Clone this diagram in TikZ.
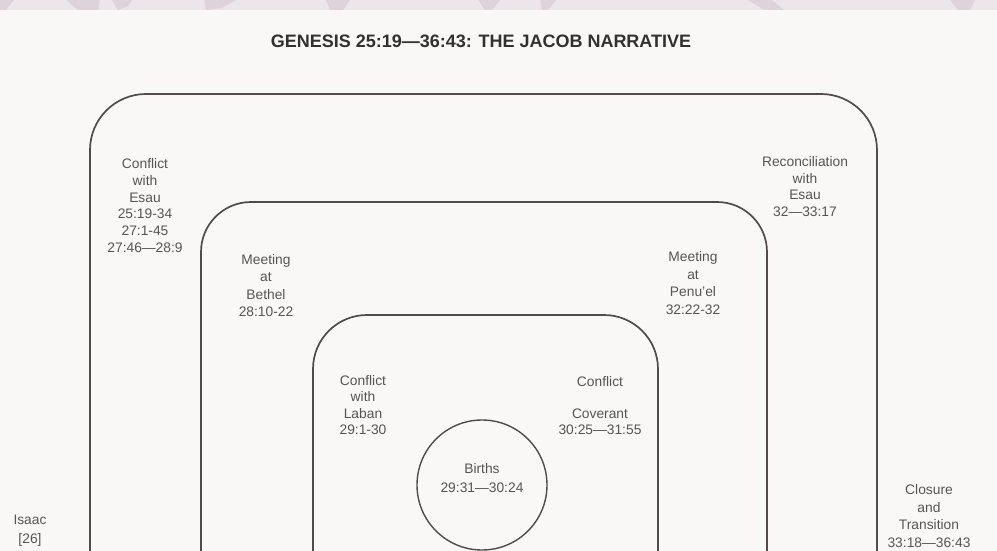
\documentclass[tikz,border=0pt]{standalone}
\usepackage{fontspec}
\setmainfont{Liberation Sans}
\definecolor{paper}{HTML}{F9F8F6}
\definecolor{band}{HTML}{EBE6EA}
\definecolor{blob}{HTML}{DED3DB}
\definecolor{ink}{HTML}{534B4B}
\definecolor{txt}{HTML}{595454}
\definecolor{ttl}{HTML}{333030}
\tikzset{
  frame/.style={draw=ink, line width=1.7pt},
  lbl/.style={text=txt, align=center, inner sep=0pt, font=\fontsize{13.8}{16.8}\selectfont},
  title/.style={text=ttl, inner sep=0pt, font=\fontsize{18}{20}\selectfont\bfseries}
}
\begin{document}
\begin{tikzpicture}[x=1pt,y=-1pt]
\useasboundingbox (0,0) rectangle (997,551);
\fill[paper] (0,0) rectangle (997,551);
% top band
\fill[band] (0,0) rectangle (997,10);
\fill[blob] (0,0) -- (14,0) -- (6,10) -- (0,10) -- cycle;
\fill[blob] (66,0) -- (100,0) -- (98,10) -- (78,10) -- cycle;
\fill[blob] (112,0) -- (132,0) -- (128,6) -- (118,10) -- cycle;
\fill[blob] (204,0) -- (236,0) -- (222,8) -- (206,10) -- cycle;
\fill[blob] (326,0) -- (350,0) -- (343,10) -- (330,10) -- cycle;
\fill[blob] (478,0) -- (500,0) -- (492,10) -- (485,10) -- cycle;
\fill[blob] (540,0) -- (556,0) -- (548,10) -- (542,10) -- cycle;
\fill[blob] (748,0) -- (772,0) -- (784,10) -- (764,10) -- cycle;
\fill[blob] (950,0) -- (975,0) -- (970,10) -- (958,10) -- cycle;

\node[title] (ttl) at (481,41) {GENESIS 25:19—36:43: THE JACOB NARRATIVE};

% frames
\draw[frame, rounded corners=56pt] (90,560) -- (90,94) -- (877,94) -- (877,560);
\draw[frame, rounded corners=50pt] (201,560) -- (201,202) -- (767,202) -- (767,560);
\draw[frame, rounded corners=54pt] (313,560) -- (313,315) -- (658,315) -- (658,560);
\node[circle, frame, line width=1.4pt, minimum size=130pt, inner sep=0pt] (circ) at (482,485) {};

% labels
\node[lbl] (esau) at (145,205.5) {Conflict\\with\\Esau\\25:19-34\\27:1-45\\27:46—28:9};
\node[lbl] (recon) at (805,186.5) {Reconciliation\\with\\Esau\\32—33:17};
\node[lbl, font=\fontsize{13.8}{17.6}\selectfont] (bethel) at (266,285.5) {Meeting\\at\\Bethel\\28:10-22};
\node[lbl, font=\fontsize{13.8}{17.6}\selectfont] (penuel) at (693,283) {Meeting\\at\\Penu'el\\32:22-32};
\node[lbl, font=\fontsize{13.8}{16.2}\selectfont] (laban) at (363,405) {Conflict\\with\\Laban\\29:1-30};
\node[lbl, font=\fontsize{13.8}{16.2}\selectfont] (coven) at (600,405.5) {Conflict\\\strut\\Coverant\\30:25—31:55};
\node[lbl, font=\fontsize{13.8}{19}\selectfont] (births) at (482,478.5) {Births\\29:31—30:24};
\node[lbl, font=\fontsize{13.8}{19}\selectfont] (isaac) at (30,531) {Isaac\\{[26]}};
\node[lbl, font=\fontsize{13.8}{17.6}\selectfont] (closure) at (929,516) {Closure\\and\\Transition\\33:18—36:43};
\end{tikzpicture}
\end{document}
